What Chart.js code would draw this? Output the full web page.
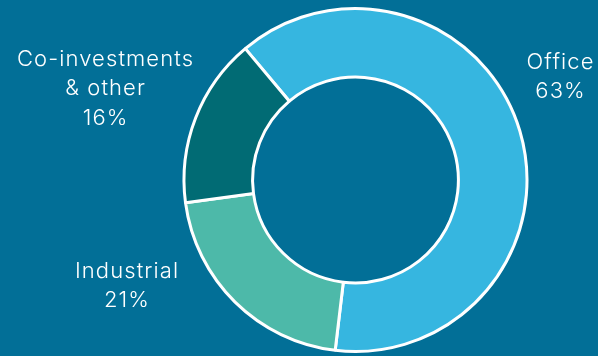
<!DOCTYPE html>
<html>
<head>
<meta charset="utf-8">
<script src="https://cdn.jsdelivr.net/npm/chart.js@4"></script>
<style>
  html, body { margin: 0; padding: 0; background: #026f97; }
  #wrap { width: 598px; height: 356px; position: relative; }
</style>
</head>
<body>
<div id="wrap"><canvas id="chart"></canvas></div>
<script>
const categories = ["Office", "Industrial", "Co-investments & other"];
const shares = [63, 21, 16];
const labelLines = [["Office", "63%"], ["Industrial", "21%"], ["Co-investments", "& other", "16%"]];
const colors = ["#36b6e0", "#4db9a9", "#016b74"];

// text position for each slice label (x center, first line y)
const labelPos = [[560, 62], [126.5, 271], [105, 59]];

const sideLabels = {
  id: "sideLabels",
  afterDraw(chart) {
    const ctx = chart.ctx;
    ctx.save();
    ctx.fillStyle = "#ffffff";
    ctx.font = "300 22px Inter";
    ctx.letterSpacing = "1.1px";
    ctx.textAlign = "center";
    ctx.textBaseline = "middle";
    labelLines.forEach((lines, i) => {
      const [x, y] = labelPos[i];
      lines.forEach((t, j) => ctx.fillText(t, x + 0.55, y + j * 29.5));
    });
    ctx.restore();
  }
};

new Chart(document.getElementById("chart"), {
  type: "doughnut",
  data: {
    labels: categories,
    datasets: [{
      data: shares,
      backgroundColor: colors,
      borderColor: "#ffffff",
      borderWidth: 3,
      hoverOffset: 0
    }]
  },
  options: {
    responsive: true,
    maintainAspectRatio: false,
    animation: false,
    rotation: -40,
    cutout: "60%",
    layout: { padding: { left: 182.5, right: 69.5, top: 7, bottom: 3 } },
    plugins: { legend: { display: false }, tooltip: { enabled: false } }
  },
  plugins: [sideLabels]
});
</script>
</body>
</html>
